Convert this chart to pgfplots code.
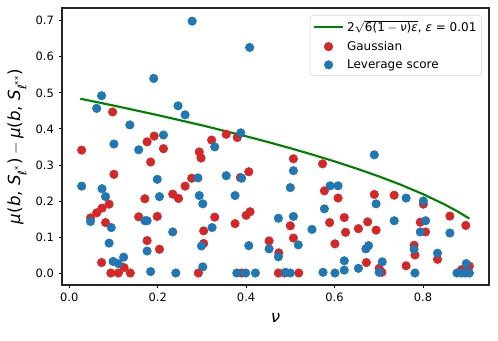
\documentclass[border=0pt]{standalone}
\usepackage{fontspec}
\setmainfont{DejaVu Sans}
\usepackage{amsmath}
\usepackage{pgfplots}
\usepackage{pgfplotstable}
\pgfplotsset{compat=1.18}
\definecolor{tabred}{RGB}{214,39,40}
\definecolor{tabblue}{RGB}{31,119,180}
\definecolor{mplgreen}{RGB}{0,128,0}
\pgfplotsset{
  lineleg/.style={legend image code/.code={\draw[##1] (0cm,0cm) -- (0.78cm,0cm);}},
  dotleg/.style={legend image code/.code={\draw[##1] plot coordinates {(0.39cm,0cm)};}},
}

% bound 2*sqrt(6(1-nu)eps), eps=0.01, evaluated beforehand
\pgfplotstableread{
nu bound
0.025 0.4837
0.1 0.4648
0.2 0.4382
0.3 0.4099
0.4 0.3795
0.45 0.3633
0.5 0.3464
0.55 0.3286
0.6 0.3098
0.65 0.2898
0.7 0.2683
0.75 0.2449
0.8 0.2191
0.85 0.1897
0.88 0.1697
0.905 0.1510
}\boundtab

\pgfplotstableread{
nu gap
0.028 0.341
0.098 0.447
0.176 0.364
0.192 0.380
0.213 0.345
0.184 0.308
0.294 0.336
0.298 0.319
0.101 0.274
0.277 0.263
0.262 0.241
0.234 0.219
0.247 0.207
0.171 0.206
0.090 0.191
0.074 0.180
0.062 0.167
0.048 0.153
0.157 0.156
0.199 0.157
0.082 0.140
0.304 0.117
0.176 0.090
0.304 0.082
0.204 0.066
0.073 0.029
0.124 0.015
0.094 0.0
0.111 0.0
0.138 0.0
0.292 0.0
0.322 0.369
0.355 0.385
0.380 0.376
0.507 0.317
0.573 0.303
0.406 0.281
0.387 0.265
0.577 0.228
0.608 0.208
0.409 0.170
0.400 0.160
0.329 0.155
0.622 0.154
0.375 0.137
0.500 0.131
0.589 0.140
0.507 0.097
0.625 0.113
0.452 0.089
0.601 0.081
0.474 0.056
0.390 0.0
0.473 0.0
0.487 0.0
0.519 0.0
0.690 0.218
0.735 0.216
0.801 0.191
0.861 0.158
0.897 0.132
0.675 0.142
0.654 0.123
0.694 0.119
0.794 0.141
0.806 0.114
0.780 0.077
0.782 0.050
0.833 0.038
0.672 0.029
0.701 0.013
0.707 0.002
0.762 0.020
0.905 0.019
0.887 0.009
}\gausstab

\pgfplotstableread{
nu gap
0.278 0.699
0.191 0.540
0.073 0.492
0.062 0.457
0.246 0.464
0.262 0.439
0.137 0.411
0.213 0.383
0.101 0.358
0.408 0.626
0.388 0.389
0.329 0.350
0.157 0.342
0.199 0.260
0.291 0.264
0.028 0.241
0.074 0.234
0.082 0.212
0.204 0.212
0.294 0.215
0.302 0.192
0.048 0.143
0.171 0.145
0.176 0.145
0.095 0.126
0.234 0.114
0.090 0.083
0.299 0.075
0.176 0.061
0.123 0.044
0.099 0.032
0.111 0.026
0.184 0.004
0.241 0.0
0.302 0.017
0.507 0.284
0.390 0.263
0.355 0.270
0.500 0.237
0.590 0.242
0.608 0.242
0.375 0.215
0.577 0.178
0.473 0.152
0.507 0.157
0.323 0.126
0.549 0.121
0.518 0.078
0.406 0.076
0.452 0.067
0.473 0.045
0.379 0.0
0.399 0.0
0.421 0.0
0.489 0.002
0.500 0.0
0.574 0.002
0.601 0.0
0.622 0.008
0.622 0.034
0.690 0.328
0.694 0.192
0.762 0.208
0.801 0.200
0.735 0.145
0.806 0.145
0.794 0.114
0.861 0.111
0.677 0.076
0.671 0.067
0.780 0.066
0.833 0.055
0.654 0.013
0.708 0.031
0.701 0.002
0.782 0.0
0.898 0.026
0.877 0.0
0.887 0.0
0.896 0.0
0.905 0.0
}\levtab

\begin{document}
\begin{tikzpicture}
\begin{axis}[
  scale only axis,
  width=320.25pt, height=207.75pt,
  xmin=-0.0165, xmax=0.9495,
  ymin=-0.0333, ymax=0.7355,
  xtick={0,0.2,0.4,0.6,0.8},
  ytick={0,0.1,0.2,0.3,0.4,0.5,0.6,0.7},
  tick align=outside, tick pos=left,
  major tick length=2.6pt,
  tick style={black, line width=0.6pt},
  axis line style={line width=0.8pt, black!85},
  /pgf/number format/fixed,
  /pgf/number format/fixed zerofill,
  /pgf/number format/precision=1,
  /pgf/number format/assume math mode=true,
  ticklabel style={font=\fontsize{8.6}{10}\selectfont},
  label style={font=\fontsize{12.5}{14}\selectfont},
  xlabel style={yshift=-1.5pt},
  xlabel={\textit{ν}},
  ylabel={$\textit{μ}\text{(}\textit{b}\text{, }\textit{S}_{\textit{ℓ}^{\text{*}}}\text{)} - \textit{μ}\text{(}\textit{b}\text{, }\textit{S}_{\textit{ℓ}^{\text{**}}}\text{)}$},
  legend style={at={(0.9836,0.9736)}, anchor=north east,
    draw=black!18, rounded corners=2pt,
    font=\fontsize{9}{11}\selectfont, row sep=1.5pt,
    inner xsep=2pt, inner ysep=2pt},
  legend cell align=left,
]
\coordinate (bl) at (rel axis cs:0,0);
\addplot[mplgreen, line width=1.6pt, lineleg]
  table[x=nu, y=bound] {\boundtab};
\addlegendentry{$\text{2}\sqrt{\text{6(1} - \textit{ν}\text{)}\textit{ε}}\text{, }\textit{ε}\text{ = 0.01}$}
\addplot[only marks, mark=*, mark size=3.2pt, color=tabred, dotleg]
  table[x=nu, y=gap] {\gausstab};
\addlegendentry{Gaussian}
\addplot[only marks, mark=*, mark size=3.2pt, color=tabblue, dotleg]
  table[x=nu, y=gap] {\levtab};
\addlegendentry{Leverage score}
\end{axis}
\pgfresetboundingbox
\path[use as bounding box] (bl) ++(-46.5pt,-41.25pt) rectangle ++(373.5pt,255pt);
\end{tikzpicture}
\end{document}
